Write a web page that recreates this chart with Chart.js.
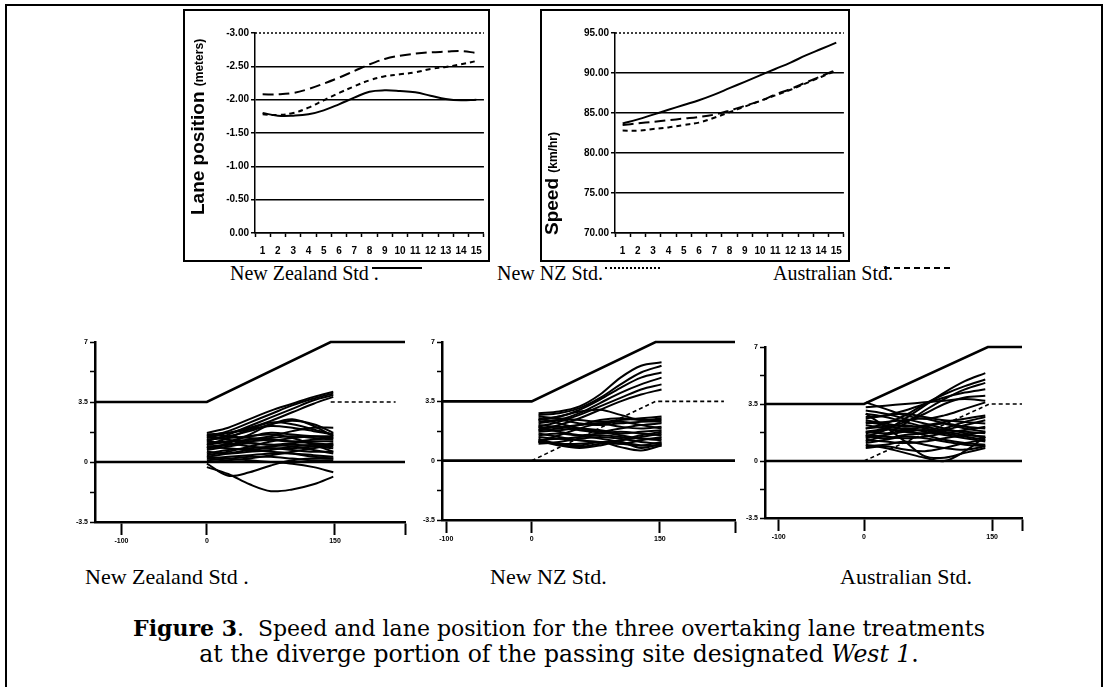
<!DOCTYPE html>
<html>
<head>
<meta charset="utf-8">
<script src="https://cdn.jsdelivr.net/npm/chart.js@4.4.0/dist/chart.umd.min.js"></script>
<style>
  body { margin: 0; background: #fff; }
  #page { position: relative; width: 1118px; height: 687px; overflow: hidden; background: #fff; color: #000; font-family: "Liberation Serif", serif; }
  #frame { position: absolute; left: 5px; top: 4px; width: 1094px; height: 700px; border: 2px solid #000; border-bottom: none; }
  canvas { position: absolute; }
  .txt { position: absolute; white-space: nowrap; font-size: 22px; line-height: 1; }
  .leg { font-size: 20px; }
  .sw { position: absolute; height: 0; }
  .cap { position: absolute; left: 0; width: 1118px; text-align: center; font-family: "DejaVu Serif", serif; line-height: 1; white-space: nowrap; }
</style>
</head>
<body>
<div id="page">
  <div id="frame"></div>
  <canvas id="laneTop" width="307" height="253" style="left:183px;top:9px"></canvas>
  <canvas id="speedTop" width="310" height="253" style="left:540px;top:9px"></canvas>

  <div class="txt leg" style="left:230px;top:263px">New Zealand Std .</div>
  <div class="sw" style="left:372px;top:267px;width:50px;border-top:2px solid #000"></div>
  <div class="txt leg" style="left:497px;top:263px">New NZ Std.</div>
  <div class="sw" style="left:605px;top:267px;width:55px;border-top:2px dotted #000"></div>
  <div class="txt leg" style="left:773px;top:263px">Australian Std.</div>
  <div class="sw" style="left:884px;top:267px;width:66px;border-top:2px dashed #000"></div>

  <canvas id="laneNZ" width="365" height="220" style="left:50px;top:332px"></canvas>
  <canvas id="laneNew" width="348" height="220" style="left:397px;top:332px"></canvas>
  <canvas id="laneAus" width="312" height="220" style="left:720px;top:332px"></canvas>

  <div class="txt" style="left:85px;top:566px">New Zealand Std .</div>
  <div class="txt" style="left:490px;top:566px">New NZ Std.</div>
  <div class="txt" style="left:840px;top:566px">Australian Std.</div>

  <div class="cap" style="top:617px;font-size:22px"><b>Figure 3</b>.&nbsp; Speed and lane position for the three overtaking lane treatments</div>
  <div class="cap" style="top:643px;font-size:23.5px">at the diverge portion of the passing site designated <i>West 1</i>.</div>
</div>

<script>
// top charts: 15 measuring points
const steps = ['1','2','3','4','5','6','7','8','9','10','11','12','13','14','15'];

const laneNZ    = [-1.80, -1.76, -1.76, -1.78, -1.84, -1.93, -2.03, -2.12, -2.14, -2.13, -2.11, -2.06, -2.01, -1.99, -2.00];
const laneNewNZ = [-1.78, -1.77, -1.80, -1.88, -1.99, -2.10, -2.20, -2.29, -2.35, -2.38, -2.41, -2.46, -2.49, -2.53, -2.58];
const laneAus   = [-2.08, -2.08, -2.10, -2.16, -2.24, -2.33, -2.43, -2.53, -2.61, -2.66, -2.69, -2.71, -2.72, -2.73, -2.70];

const speedNZ    = [83.7, 84.2, 84.8, 85.4, 86.0, 86.6, 87.3, 88.1, 88.9, 89.7, 90.5, 91.3, 92.2, 93.0, 93.8];
const speedNewNZ = [82.8, 82.8, 83.0, 83.2, 83.5, 83.8, 84.4, 85.1, 85.8, 86.5, 87.2, 87.9, 88.7, 89.5, 90.3];
const speedAus   = [83.5, 83.7, 83.9, 84.1, 84.3, 84.5, 84.8, 85.3, 85.9, 86.5, 87.3, 88.0, 88.8, 89.6, 90.4];

// bottom charts: distance (m) and lateral offset (m)
const distTicks = [-100, 0, 150];
const distLabels = ['-100', '0', '150', ''];
const offsetTicks = [-3.5, -1.75, 0, 1.75, 3.5, 5.25, 7];
const offsetLabels = ['-3.5', '', '0', '', '3.5', '', '7'];

const edgeX = [-140, 0, 145, 245];
const edgeY = [3.5, 3.5, 7, 7];
const centreX = [-140, 245];
const centreY = [0, 0];

const nzStations = [0, 25, 50, 75, 100, 125, 148];
const nzDashX = [145, 221];
const nzDashY = [3.5, 3.5];
const nzPaths = [
  [1.7, 2.0, 2.5, 3.0, 3.4, 3.8, 4.1],
  [1.5, 1.8, 2.3, 2.8, 3.3, 3.7, 4.0],
  [1.2, 1.6, 2.1, 2.6, 3.1, 3.6, 3.9],
  [1.4, 1.7, 2.0, 2.4, 2.9, 3.4, 3.8],
  [1.0, 1.4, 1.9, 2.3, 2.2, 1.9, 1.6],
  [0.8, 1.1, 1.6, 2.2, 2.5, 2.1, 1.5],
  [1.6, 1.7, 1.9, 2.1, 2.0, 1.8, 1.6],
  [1.3, 1.4, 1.5, 1.7, 1.6, 1.5, 1.4],
  [1.1, 1.2, 1.3, 1.4, 1.5, 1.4, 1.3],
  [0.9, 1.0, 1.2, 1.3, 1.2, 1.1, 1.0],
  [0.7, 0.9, 1.1, 1.0, 1.1, 1.2, 1.2],
  [0.5, 0.7, 0.8, 0.9, 1.0, 0.9, 0.8],
  [0.3, 0.5, 0.7, 0.8, 0.7, 0.6, 0.6],
  [0.6, 0.5, 0.6, 0.7, 0.9, 1.0, 0.9],
  [0.2, 0.3, 0.4, 0.5, 0.5, 0.4, 0.3],
  [0.1, 0.2, 0.3, 0.3, 0.2, 0.1, 0.1],
  [1.2, 1.1, 0.9, 0.8, 0.8, 0.9, 1.1],
  [1.5, 1.3, 1.1, 1.0, 0.9, 0.7, 0.5],
  [0.4, 0.6, 0.9, 1.2, 1.4, 1.5, 1.5],
  [0.9, 0.8, 0.7, 0.6, 0.5, 0.3, 0.2],
  [1.0, 1.2, 1.5, 1.6, 1.4, 1.0, 0.6],
  [0.0, 0.1, 0.2, 0.4, 0.6, 0.8, 1.0],
  [-0.1, -0.8, -0.6, -0.2, 0.1, 0.2, 0.2],
  [-0.3, -0.7, -1.3, -1.7, -1.6, -1.3, -0.85],
  [0.3, 0.2, 0.1, 0.0, -0.1, -0.3, -0.6],
  [1.3, 1.5, 1.8, 2.2, 2.4, 2.2, 1.7],
  [0.8, 1.0, 1.3, 1.5, 1.8, 2.0, 2.0],
  [1.6, 1.5, 1.4, 1.3, 1.2, 1.3, 1.4]
];

const newStations = [8, 32, 56, 80, 104, 128, 152];
const newDashX = [0, 145, 225];
const newDashY = [0, 3.5, 3.5];
const newPaths = [
  [2.8, 2.9, 3.2, 3.9, 4.9, 5.6, 5.8],
  [2.7, 2.8, 3.1, 3.7, 4.5, 5.2, 5.6],
  [2.4, 2.6, 3.0, 3.6, 4.3, 4.9, 5.2],
  [2.2, 2.4, 2.8, 3.4, 4.0, 4.5, 4.9],
  [2.0, 2.3, 2.7, 3.2, 3.7, 4.2, 4.5],
  [1.8, 2.1, 2.5, 3.0, 3.5, 3.9, 4.2],
  [2.6, 2.5, 2.4, 2.3, 2.4, 2.5, 2.6],
  [2.3, 2.4, 2.2, 2.1, 2.2, 2.3, 2.3],
  [2.1, 2.0, 2.1, 2.2, 2.0, 1.9, 2.0],
  [1.9, 2.0, 1.8, 1.7, 1.9, 2.1, 2.2],
  [1.7, 1.8, 1.9, 1.8, 1.6, 1.7, 1.8],
  [1.5, 1.6, 1.5, 1.6, 1.7, 1.6, 1.5],
  [1.4, 1.3, 1.4, 1.5, 1.4, 1.3, 1.3],
  [1.2, 1.3, 1.2, 1.1, 1.2, 1.4, 1.6],
  [1.0, 1.1, 1.3, 1.4, 1.3, 1.1, 1.0],
  [1.6, 1.4, 1.2, 1.1, 1.0, 1.2, 1.4],
  [1.1, 1.0, 1.0, 1.1, 1.0, 0.9, 1.1],
  [1.2, 0.9, 0.75, 0.9, 1.2, 1.5, 1.7],
  [1.3, 0.95, 0.8, 1.0, 1.1, 0.75, 1.0],
  [1.1, 1.0, 0.9, 1.1, 0.8, 0.6, 0.9],
  [2.0, 1.7, 1.5, 1.3, 1.1, 0.9, 0.9],
  [1.1, 1.5, 1.9, 2.2, 2.3, 2.1, 1.9],
  [2.5, 2.2, 1.9, 1.7, 1.5, 1.3, 1.2],
  [1.8, 1.9, 2.1, 2.4, 2.5, 2.4, 2.4],
  [2.4, 2.6, 2.9, 3.0, 2.7, 2.4, 2.5]
];

const ausStations = [2, 25, 48, 71, 94, 118, 142];
const ausDashX = [0, 147, 245];
const ausDashY = [0, 3.5, 3.5];
const ausPaths = [
  [1.5, 1.9, 2.6, 3.4, 4.2, 4.9, 5.4],
  [2.0, 2.3, 2.8, 3.5, 4.1, 4.6, 5.0],
  [1.2, 1.6, 2.3, 3.1, 3.8, 4.4, 4.8],
  [2.6, 2.8, 3.1, 3.5, 3.9, 4.2, 4.4],
  [1.8, 2.0, 2.4, 2.9, 3.5, 3.9, 4.0],
  [3.3, 3.4, 3.5, 3.6, 3.7, 3.8, 3.7],
  [3.6, 3.2, 2.8, 2.6, 2.8, 3.2, 3.6],
  [2.9, 2.7, 2.4, 2.1, 1.9, 1.8, 1.7],
  [2.7, 2.8, 2.9, 2.7, 2.5, 2.4, 2.3],
  [2.5, 2.3, 2.1, 2.2, 2.4, 2.6, 2.8],
  [2.3, 2.4, 2.5, 2.6, 2.3, 2.0, 1.8],
  [2.2, 2.0, 1.8, 1.7, 1.9, 2.2, 2.5],
  [2.0, 2.1, 2.2, 2.0, 1.8, 1.6, 1.5],
  [1.8, 1.7, 1.9, 2.1, 2.3, 2.1, 2.0],
  [1.7, 1.9, 2.0, 1.8, 1.6, 1.4, 1.2],
  [1.6, 1.5, 1.4, 1.5, 1.7, 1.9, 2.1],
  [1.4, 1.6, 1.8, 1.9, 1.7, 1.5, 1.3],
  [1.3, 1.2, 1.1, 1.2, 1.4, 1.6, 1.8],
  [1.1, 1.3, 1.5, 1.4, 1.2, 1.0, 0.9],
  [0.9, 1.0, 1.2, 1.0, 0.8, 0.7, 0.9],
  [0.8, 0.9, 0.7, 0.6, 0.8, 1.1, 1.3],
  [3.1, 2.9, 2.6, 2.3, 2.0, 1.7, 1.4],
  [1.5, 1.4, 1.6, 1.7, 2.0, 2.4, 2.7],
  [2.4, 2.2, 1.9, 1.6, 1.3, 1.1, 1.0],
  [2.9, 2.1, 1.2, 0.3, 0.2, 0.5, 0.8],
  [1.0, 0.8, 0.5, 0.2, 0.0, 0.6, 1.5]
];

Chart.defaults.font.family = '"Liberation Sans", Arial, sans-serif';
Chart.defaults.color = '#000';

// box round each excel chart, dotted top border and two-size axis title
const boxPlugin = {
  id: 'box',
  afterDraw(chart, args, o) {
    const c = chart.ctx, a = chart.chartArea;
    c.save();
    c.strokeStyle = '#000';
    c.lineWidth = 2;
    c.strokeRect(1, 1, chart.width - 2, chart.height - 2);
    c.lineWidth = 1.5;
    c.setLineDash([2, 2]);
    c.beginPath();
    c.moveTo(a.left, a.top);
    c.lineTo(a.right, a.top);
    c.stroke();
    c.setLineDash([]);
    c.fillStyle = '#000';
    c.translate(o.titleX, o.titleBottom);
    c.rotate(-Math.PI / 2);
    c.textBaseline = 'middle';
    c.textAlign = 'left';
    c.font = 'bold 19px "Liberation Sans"';
    c.fillText(o.title, 0, 0);
    const w = c.measureText(o.title + ' ').width;
    c.font = 'bold 12px "Liberation Sans"';
    c.fillText(o.unit, w, 1);
    c.restore();
  }
};

function topChart(id, series, yMin, yMax, yStep, reverse, box) {
  const topVal = reverse ? yMin : yMax;
  return new Chart(document.getElementById(id), {
    type: 'line',
    data: {
      labels: steps,
      datasets: series.map(s => ({
        data: s.values,
        borderColor: '#000',
        borderWidth: 2,
        borderDash: s.dash,
        pointRadius: 0,
        tension: 0.4,
        fill: false
      }))
    },
    options: {
      responsive: false,
      animation: false,
      events: [],
      layout: { padding: { top: 24, right: box.padRight, left: 0, bottom: 0 } },
      plugins: { legend: { display: false }, tooltip: { enabled: false }, box: box },
      scales: {
        x: {
          offset: true,
          grid: { offset: true, drawOnChartArea: false, tickLength: 4, color: '#000', tickWidth: 1.5 },
          border: { color: '#000', width: 1.5 },
          ticks: { font: { size: 10, weight: 'bold' }, padding: 8, maxRotation: 0, autoSkip: false },
          afterFit: s => { s.height = 29; }
        },
        y: {
          min: yMin, max: yMax, reverse: reverse,
          ticks: { stepSize: yStep, font: { size: 10, weight: 'bold' }, padding: 2, callback: v => v.toFixed(2) },
          grid: {
            color: ctx => (ctx.tick && ctx.tick.value === topVal) ? 'rgba(0,0,0,0)' : '#000',
            lineWidth: 1.5, tickLength: 4, tickColor: '#000', tickWidth: 1.5
          },
          border: { color: '#000', width: 1.5 },
          afterFit: s => { s.width = box.axisW; }
        }
      }
    },
    plugins: [boxPlugin]
  });
}

topChart('laneTop', [
  { values: laneNZ, dash: [] },
  { values: laneNewNZ, dash: [5, 4] },
  { values: laneAus, dash: [11, 5] }
], -3, 0, 0.5, true, { axisW: 72, padRight: 4, titleX: 16, titleBottom: 206, title: 'Lane position', unit: '(meters)' });

topChart('speedTop', [
  { values: speedNZ, dash: [] },
  { values: speedNewNZ, dash: [5, 4] },
  { values: speedAus, dash: [11, 5] }
], 70, 95, 5, false, { axisW: 75, padRight: 5, titleX: 13, titleBottom: 226, title: 'Speed', unit: '(km/hr)' });

function pts(xs, ys) {
  return xs.map((x, i) => ({ x: x, y: ys[i] }));
}

function laneChart(id, stations, paths, dashX, dashY, xMin, xMax, padTop, axisH) {
  const edgeClip = { left: 0, right: 0, top: 4, bottom: 4 };
  const sets = [
    { data: pts(edgeX, edgeY), borderWidth: 2.6, tension: 0, clip: edgeClip },
    { data: pts(centreX, centreY), borderWidth: 2.6, tension: 0, clip: edgeClip },
    { data: pts(dashX, dashY), borderWidth: 1.6, borderDash: [4, 3], tension: 0, clip: edgeClip }
  ];
  paths.forEach(p => sets.push({ data: pts(stations, p), borderWidth: 2, tension: 0.35, clip: false }));
  sets.forEach(s => { s.borderColor = '#000'; s.pointRadius = 0; s.fill = false; });

  return new Chart(document.getElementById(id), {
    type: 'line',
    data: { datasets: sets },
    options: {
      responsive: false,
      animation: false,
      events: [],
      layout: { padding: { top: padTop, right: 10, left: 0, bottom: 0 } },
      plugins: { legend: { display: false }, tooltip: { enabled: false } },
      scales: {
        x: {
          type: 'linear', min: xMin, max: xMax,
          afterBuildTicks: s => { s.ticks = distTicks.concat([s.max]).map(v => ({ value: v })); },
          ticks: { callback: (v, i) => distLabels[i], font: { size: 7, weight: 'bold' }, padding: 2, maxRotation: 0, autoSkip: false },
          grid: { drawOnChartArea: false, tickLength: 13, tickWidth: 2, tickColor: '#000', color: '#000' },
          border: { color: '#000', width: 2.5 },
          afterFit: s => { s.height = axisH; }
        },
        y: {
          type: 'linear', min: -3.5, max: 7,
          afterBuildTicks: s => { s.ticks = offsetTicks.map(v => ({ value: v })); },
          ticks: { callback: (v, i) => offsetLabels[i], font: { size: 7, weight: 'bold' }, padding: 2, autoSkip: false },
          grid: { drawOnChartArea: false, tickLength: 5, tickWidth: 1.5, tickColor: '#000', color: '#000' },
          border: { color: '#000', width: 2.5 },
          afterFit: s => { s.width = 45; }
        }
      }
    }
  });
}

laneChart('laneNZ', nzStations, nzPaths, nzDashX, nzDashY, -131, 232, 10, 30);
laneChart('laneNew', newStations, newPaths, newDashX, newDashY, -105, 238, 10, 32);
laneChart('laneAus', ausStations, ausPaths, ausDashX, ausDashY, -116, 185, 15, 34);
</script>
</body>
</html>
